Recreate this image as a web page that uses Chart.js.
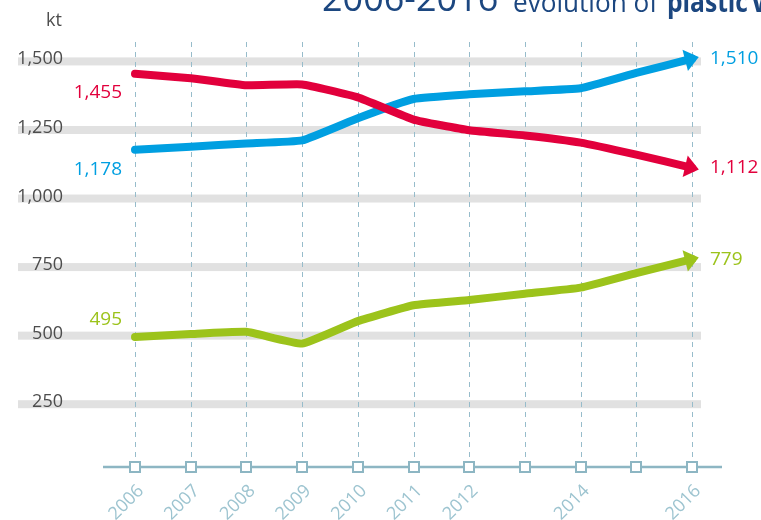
<!DOCTYPE html>
<html>
<head>
<meta charset="utf-8">
<script src="https://cdn.jsdelivr.net/npm/chart.js@4"></script>
<style>
    html, body { margin: 0; padding: 0; background: #fff; }
    #quadro { width: 761px; height: 520px; position: relative; overflow: hidden; }
</style>
</head>
<body>
<div id="quadro"><canvas id="graficoPlastico" width="761" height="520"></canvas></div>
<script>
var anos = ['2006', '2007', '2008', '2009', '2010', '2011', '2012', '2013', '2014', '2015', '2016'];
var rotulosAnos = ['2006', '2007', '2008', '2009', '2010', '2011', '2012', '', '2014', '', '2016'];
var valoresVermelho = [1455, 1439, 1413, 1416, 1369, 1288, 1249, 1230, 1204, 1160, 1112];
var valoresAzul = [1178, 1189, 1201, 1212, 1293, 1363, 1380, 1391, 1402, 1458, 1510];
var valoresVerde = [495, 506, 514, 471, 553, 611, 630, 653, 675, 728, 779];
var ticksY = [250, 500, 750, 1000, 1250, 1500];

var fonte = '"Open Sans", "DejaVu Sans", sans-serif';
var corVermelho = '#e2003c';
var corAzul = '#009fe1';
var corVerde = '#9cc31b';
var corEixo = '#8db6c3';

function formatar(v) {
    return v.toLocaleString('en-US');
}

// bandas cinzas, linhas tracejadas, eixo com quadradinhos e textos
var decoracao = {
    id: 'decoracao',
    beforeDatasetsDraw: function (chart) {
        var ctx = chart.ctx;
        var x = chart.scales.x, y = chart.scales.y;
        ctx.save();

        ctx.fillStyle = '#e1e1e1';
        ticksY.forEach(function (v) {
            var py = y.getPixelForValue(v);
            ctx.fillRect(18, py - 4, 683, 8);
        });

        ctx.strokeStyle = '#97bccb';
        ctx.lineWidth = 1;
        ctx.setLineDash([5, 5]);
        anos.forEach(function (a, i) {
            var px = Math.round(x.getPixelForValue(i)) + 0.5;
            ctx.beginPath();
            ctx.moveTo(px, 42);
            ctx.lineTo(px, chart.chartArea.bottom);
            ctx.stroke();
        });
        ctx.setLineDash([]);

        ctx.fillStyle = '#4d4d4d';
        ctx.font = '18px ' + fonte;
        ctx.textAlign = 'right';
        ctx.textBaseline = 'alphabetic';
        ticksY.forEach(function (v) {
            ctx.fillText(formatar(v), 63, y.getPixelForValue(v) + 3);
        });

        ctx.font = '18px ' + fonte;
        ctx.textAlign = 'left';
        ctx.fillText('kt', 46, 26);
        ctx.restore();
    },
    afterDatasetsDraw: function (chart) {
        var ctx = chart.ctx;
        var x = chart.scales.x;
        var base = chart.chartArea.bottom;
        ctx.save();

        // pontas de seta no fim de cada linha
        chart.data.datasets.forEach(function (ds, i) {
            var pts = chart.getDatasetMeta(i).data;
            var p = pts[pts.length - 1], q = pts[pts.length - 2];
            var ang = Math.atan2(p.y - q.y, p.x - q.x);
            ctx.save();
            ctx.translate(p.x, p.y);
            ctx.rotate(ang);
            ctx.fillStyle = ds.borderColor;
            ctx.beginPath();
            ctx.moveTo(7, 0);
            ctx.lineTo(-7, -11);
            ctx.lineTo(-7, 11);
            ctx.closePath();
            ctx.fill();
            ctx.restore();
        });

        // eixo horizontal
        ctx.strokeStyle = corEixo;
        ctx.lineWidth = 2.5;
        ctx.beginPath();
        ctx.moveTo(103, base);
        ctx.lineTo(722, base);
        ctx.stroke();

        ctx.lineWidth = 2;
        anos.forEach(function (a, i) {
            var px = Math.round(x.getPixelForValue(i));
            ctx.fillStyle = '#fff';
            ctx.fillRect(px - 5, base - 5, 10, 10);
            ctx.strokeRect(px - 5, base - 5, 10, 10);
        });

        ctx.fillStyle = '#9dc4d0';
        ctx.font = '18px ' + fonte;
        ctx.textAlign = 'right';
        ctx.textBaseline = 'middle';
        rotulosAnos.forEach(function (r, i) {
            if (!r) return;
            var px = x.getPixelForValue(i);
            ctx.save();
            ctx.translate(px + 6, base + 21);
            ctx.rotate(-Math.PI / 4);
            ctx.fillText(r, 0, 0);
            ctx.restore();
        });

        // rótulos de valor no início e no fim
        ctx.font = '19px ' + fonte;
        var deslocInicio = [19, 20, -17];
        chart.data.datasets.forEach(function (ds, i) {
            var pts = chart.getDatasetMeta(i).data;
            var ini = pts[0], fim = pts[pts.length - 1];
            ctx.fillStyle = ds.borderColor;
            ctx.textAlign = 'right';
            ctx.fillText(formatar(ds.data[0]), 122, ini.y + deslocInicio[i]);
            ctx.textAlign = 'left';
            ctx.fillText(formatar(ds.data[ds.data.length - 1]), 710, fim.y);
        });

        // título, cortado no topo
        ctx.fillStyle = '#1c4780';
        ctx.textAlign = 'left';
        ctx.textBaseline = 'alphabetic';
        ctx.font = '36px ' + fonte;
        ctx.fillText('2006-2016', 322, 11, 180);
        ctx.font = '28px ' + fonte;
        ctx.fillText('evolution of', 513, 12, 145);
        ctx.font = 'bold 28px ' + fonte;
        ctx.fillText('plastic', 667, 12, 81);
        ctx.fillText('waste', 752, 12);
        ctx.restore();
    }
};

document.addEventListener('DOMContentLoaded', function () {
    var tela = document.getElementById('graficoPlastico');
    var linha = function (valores, cor) {
        return {
            data: valores, borderColor: cor, backgroundColor: cor,
            borderWidth: 8, pointRadius: 0, tension: 0.12,
            borderCapStyle: 'round', borderJoinStyle: 'round', fill: false
        };
    };
    new Chart(tela, {
        type: 'line',
        data: {
            labels: anos,
            datasets: [
                linha(valoresVermelho, corVermelho),
                linha(valoresAzul, corAzul),
                linha(valoresVerde, corVerde)
            ]
        },
        options: {
            responsive: false,
            animation: false,
            devicePixelRatio: 1,
            layout: { padding: { left: 135, right: 69, top: 34, bottom: 53 } },
            plugins: { legend: { display: false }, tooltip: { enabled: false } },
            scales: {
                x: { display: false, offset: false },
                y: { display: false, min: 21, max: 1600 }
            },
            clip: false
        },
        plugins: [decoracao]
    });
});
</script>
</body>
</html>
